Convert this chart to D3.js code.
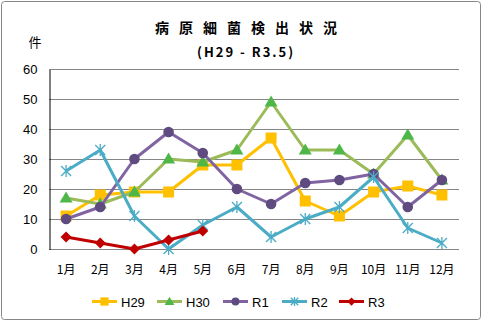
<!DOCTYPE html>
<html><head><meta charset="utf-8">
<script src="https://cdn.jsdelivr.net/npm/d3@7"></script>
<style>
html,body{margin:0;padding:0;background:#fff;}
svg{display:block;}
</style></head>
<body>
<script>
// Monthly counts of pathogenic bacteria detections
const months = ["1月","2月","3月","4月","5月","6月","7月","8月","9月","10月","11月","12月"];
const yTicks = [0,10,20,30,40,50,60];
const seriesNames = ["H29","H30","R1","R2","R3"];
const h29 = [11,18,19,19,28,28,37,16,11,19,21,18];
const h30 = [17,15,19,30,29,33,49,33,33,25,38,23];
const r1  = [10,14,30,39,32,20,15,22,23,25,14,23];
const r2  = [26,33,11,0,8,14,4,10,14,24,7,2];
const r3  = [4,2,0,3,6];

const W = 483, H = 322;
const svg = d3.select("body").append("svg").attr("width", W).attr("height", H);

// chart frame
svg.append("rect").attr("x",1.5).attr("y",1.5).attr("width",W-4).attr("height",H-4)
  .attr("rx",3).attr("fill","#fff").attr("stroke","#868686").attr("stroke-width",1);

const plot = {left:49, right:459, top:69, bottom:249};
const x = d3.scaleBand().domain(months).range([plot.left, plot.right]);
const y = d3.scaleLinear().domain([0,60]).range([plot.bottom, plot.top]);

// gridlines
svg.append("g").selectAll("line").data(yTicks.filter(d=>d>0)).join("line")
  .attr("x1",plot.left).attr("x2",plot.right)
  .attr("y1",d=>y(d)+0.5).attr("y2",d=>y(d)+0.5)
  .attr("stroke","#868686").attr("stroke-width",1);

// x axis baseline
svg.append("line").attr("x1",plot.left).attr("x2",plot.right)
  .attr("y1",plot.bottom+0.5).attr("y2",plot.bottom+0.5)
  .attr("stroke","#868686");

// y axis
const yAxis = d3.axisLeft(y).tickValues(yTicks).tickSize(0).tickPadding(12);
const gy = svg.append("g").attr("transform",`translate(${plot.left+0.5},0.5)`).call(yAxis);
gy.select(".domain").attr("stroke","#000");
gy.selectAll("text").attr("font-family","'Liberation Sans', Arial, sans-serif")
  .attr("font-size",13).attr("fill","#000");

// x axis labels
const xAxis = d3.axisBottom(x).tickSize(0).tickPadding(16);
const gx = svg.append("g").attr("transform",`translate(0,${plot.bottom})`).call(xAxis);
gx.select(".domain").remove();
gx.selectAll("text").attr("font-family","'Noto Sans CJK JP', sans-serif")
  .attr("font-size",12).attr("fill","#000");

const series = [
  {name:"H29", values:h29, line:"#FFC000", fill:"#FFC000", shape:"square"},
  {name:"H30", values:h30, line:"#9BBB59", fill:"#4EB748", shape:"triangle"},
  {name:"R1",  values:r1,  line:"#8064A2", fill:"#5F4B80", shape:"circle"},
  {name:"R2",  values:r2,  line:"#4BACC6", fill:"#4BACC6", shape:"star"},
  {name:"R3",  values:r3,  line:"#C00000", fill:"#C00000", shape:"diamond"}
];

function drawMarker(g, s, cx, cy, scale=1){
  if(s.shape==="square"){
    const a=11*scale;
    g.append("rect").attr("x",cx-a/2).attr("y",cy-a/2).attr("width",a).attr("height",a).attr("fill",s.fill);
  } else if(s.shape==="triangle"){
    const a=6.5*scale;
    g.append("path").attr("d",`M${cx},${cy-a}L${cx+a},${cy+a*0.7}L${cx-a},${cy+a*0.7}Z`).attr("fill",s.fill);
  } else if(s.shape==="circle"){
    g.append("circle").attr("cx",cx).attr("cy",cy).attr("r",5.3*scale).attr("fill",s.fill);
  } else if(s.shape==="star"){
    const a=5*scale;
    g.append("path").attr("d",`M${cx-a},${cy-a}L${cx+a},${cy+a}M${cx-a},${cy+a}L${cx+a},${cy-a}M${cx},${cy-a*1.2}L${cx},${cy+a*1.2}`)
      .attr("stroke",s.fill).attr("stroke-width",1.3).attr("fill","none");
  } else if(s.shape==="diamond"){
    const a=5.5*scale;
    g.append("path").attr("d",`M${cx},${cy-a}L${cx+a},${cy}L${cx},${cy+a}L${cx-a},${cy}Z`).attr("fill",s.fill);
  }
}

const line = d3.line().x((d,i)=>x(months[i])+x.bandwidth()/2).y(d=>y(d));

series.forEach(s=>{
  const g = svg.append("g");
  g.append("path").datum(s.values).attr("d",line)
    .attr("fill","none").attr("stroke",s.line).attr("stroke-width",3).attr("stroke-linejoin","round");
  s.values.forEach((v,i)=>drawMarker(g, s, x(months[i])+x.bandwidth()/2, y(v)));
});

// titles
svg.append("text").attr("x",155).attr("y",33)
  .attr("font-family","'Noto Sans CJK JP', sans-serif").attr("font-weight","bold")
  .attr("font-size",14).attr("letter-spacing",10).attr("fill","#000").text("病原細菌検出状況");
svg.append("text").attr("x",197).attr("y",57)
  .attr("font-family","'Noto Sans CJK JP', sans-serif").attr("font-weight","bold")
  .attr("font-size",13).attr("letter-spacing",2).attr("fill","#000").text("(H29 - R3.5)");
svg.append("text").attr("x",35).attr("y",47).attr("text-anchor","middle")
  .attr("font-family","'Noto Sans CJK JP', sans-serif")
  .attr("font-size",13).attr("fill","#000").text("件");

// legend
const legendX = [92,157,223,282,339];
series.forEach((s,i)=>{
  const g = svg.append("g");
  const lx = legendX[i], ly = 301.5;
  g.append("line").attr("x1",lx).attr("x2",lx+25).attr("y1",ly).attr("y2",ly)
    .attr("stroke",s.line).attr("stroke-width",3);
  drawMarker(g, s, lx+12.5, ly, 0.75);
  g.append("text").attr("x",lx+29).attr("y",ly+5)
    .attr("font-family","'Liberation Sans', Arial, sans-serif").attr("font-size",13)
    .attr("fill","#000").text(s.name);
});
</script>
</body></html>
